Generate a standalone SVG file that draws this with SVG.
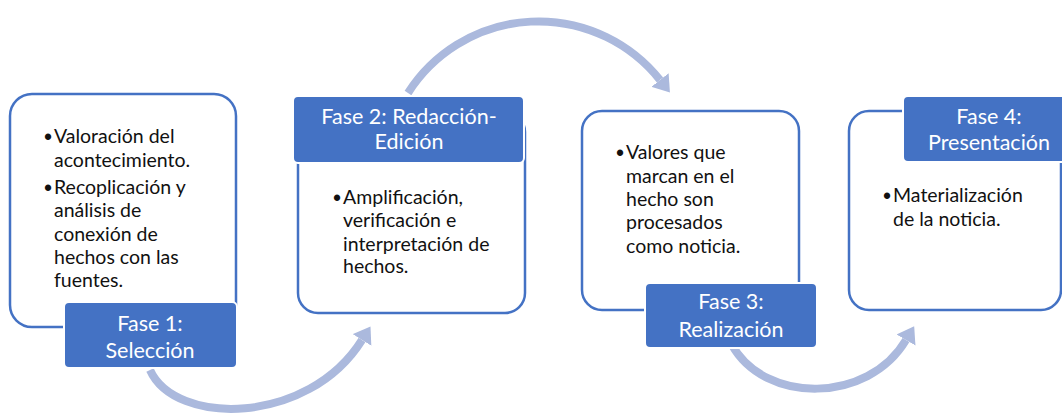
<svg xmlns="http://www.w3.org/2000/svg" width="1062" height="415" viewBox="0 0 1062 415">
<style>
.box{fill:#fff;stroke:#4472C4;stroke-width:2.5}
.hdr{fill:#4472C4;stroke:#fff;stroke-width:2}
.ht{font-family:Lato,"Liberation Sans",sans-serif;font-size:21.5px;fill:#fff;text-anchor:middle}
.bt{font-family:Lato,"Liberation Sans",sans-serif;font-size:19.5px;fill:#111}
.bu{font-family:"Liberation Sans",sans-serif;font-size:23px;fill:#111}
.arr{fill:none;stroke:#ABB9DD;stroke-width:8}
</style>
<defs>
<marker id="ah" markerUnits="userSpaceOnUse" viewBox="0 0 16 22" refX="0" refY="11" markerWidth="16" markerHeight="22" orient="auto">
<path d="M0,0 L16,11 L0,22 z" fill="#ABB9DD"/>
</marker>
</defs>
<rect width="1062" height="415" fill="#fff"/>
<g id="connectors">
<path class="arr" d="M150,370 C175,426 308,426 362,340" marker-end="url(#ah)"/>
<path class="arr" d="M408,93 A155,155 0 0 1 660,80" marker-end="url(#ah)"/>
<path class="arr" d="M732,345 C765,404 868,404 906,340" marker-end="url(#ah)"/>
</g>
<g id="node1">
<rect class="box" x="10" y="94" width="226" height="233" rx="22"/>
<text class="bu"><tspan x="44" y="145">•</tspan><tspan x="44" y="196">•</tspan></text>
<text class="bt"><tspan x="54" y="143">Valoración del</tspan><tspan x="54" y="167">acontecimiento.</tspan><tspan x="54" y="194">Recoplicación y</tspan><tspan x="54" y="217">análisis de</tspan><tspan x="54" y="241">conexión de</tspan><tspan x="54" y="264">hechos con las</tspan><tspan x="54" y="287">fuentes.</tspan></text>
<rect class="hdr" x="64" y="302" width="173" height="66" rx="5"/>
<text class="ht"><tspan x="150" y="331">Fase 1:</tspan><tspan x="150" y="358">Selección</tspan></text>
</g>
<g id="node2">
<rect class="box" x="298" y="112" width="227" height="201" rx="20"/>
<rect class="hdr" x="293" y="96" width="231" height="67" rx="5"/>
<text class="ht"><tspan x="409" y="124">Fase 2: Redacción-</tspan><tspan x="409" y="149">Edición</tspan></text>
<text class="bu"><tspan x="333" y="206">•</tspan></text>
<text class="bt"><tspan x="343" y="204">Amplificación,</tspan><tspan x="343" y="227">verificación e</tspan><tspan x="343" y="251">interpretación de</tspan><tspan x="343" y="273">hechos.</tspan></text>
</g>
<g id="node3">
<rect class="box" x="582" y="111" width="217" height="199" rx="20"/>
<text class="bu"><tspan x="616" y="161">•</tspan></text>
<text class="bt"><tspan x="626" y="159">Valores que</tspan><tspan x="626" y="183">marcan en el</tspan><tspan x="626" y="206">hecho son</tspan><tspan x="626" y="229">procesados</tspan><tspan x="626" y="253">como noticia.</tspan></text>
<rect class="hdr" x="645" y="283" width="172" height="65" rx="5"/>
<text class="ht"><tspan x="731" y="309">Fase 3:</tspan><tspan x="731" y="337">Realización</tspan></text>
</g>
<g id="node4">
<rect class="box" x="849" y="111" width="212" height="199" rx="20"/>
<rect class="hdr" x="903" y="96" width="170" height="66" rx="5"/>
<text class="ht"><tspan x="989" y="124">Fase 4:</tspan><tspan x="989" y="150">Presentación</tspan></text>
<text class="bu"><tspan x="883" y="204">•</tspan></text>
<text class="bt"><tspan x="893" y="202">Materialización</tspan><tspan x="893" y="226">de la noticia.</tspan></text>
</g>
</svg>
